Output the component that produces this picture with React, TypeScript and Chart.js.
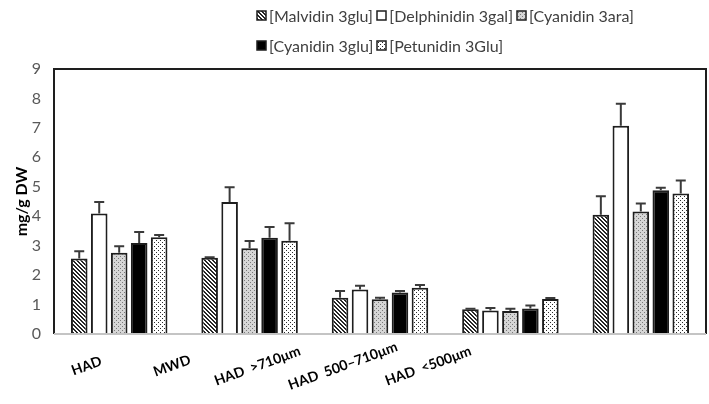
import React, { useEffect, useRef } from 'react';
import { Chart, registerables } from 'chart.js';

Chart.register(...registerables);

const categories = ['HAD', 'MWD', 'HAD  >710μm', 'HAD  500–710μm', 'HAD  <500μm'];
const seriesNames = ['[Malvidin 3glu]', '[Delphinidin 3gal]', '[Cyanidin 3ara]', '[Cyanidin 3glu]', '[Petunidin 3Glu]'];

const malvidin3glu = [2.56, 2.59, 1.23, 0.84, 4.05];
const malvidin3gluErr = [0.25, 0.02, 0.23, 0.02, 0.63];
const delphinidin3gal = [4.09, 4.48, 1.51, 0.8, 7.07];
const delphinidin3galErr = [0.39, 0.5, 0.13, 0.08, 0.75];
const cyanidin3ara = [2.76, 2.91, 1.18, 0.78, 4.16];
const cyanidin3araErr = [0.22, 0.25, 0.05, 0.08, 0.27];
const cyanidin3glu = [3.09, 3.27, 1.41, 0.87, 4.88];
const cyanidin3gluErr = [0.37, 0.36, 0.05, 0.1, 0.09];
const petunidin3glu = [3.29, 3.17, 1.57, 1.19, 4.77];
const petunidin3gluErr = [0.07, 0.59, 0.09, 0.03, 0.44];

const yTicks = [0, 1, 2, 3, 4, 5, 6, 7, 8, 9];

const seriesValues = [malvidin3glu, delphinidin3gal, cyanidin3ara, cyanidin3glu, petunidin3glu];
const seriesErrors = [malvidin3gluErr, delphinidin3galErr, cyanidin3araErr, cyanidin3gluErr, petunidin3gluErr];
const fillKinds = ['hatch', 'white', 'grayDots', 'black', 'dots'];

// label placement along the category axis (fractional category index)
const LABEL_INDEX_START = -0.25;
const LABEL_INDEX_STEP = 0.655;

function makeFill(kind: string): CanvasPattern | string {
  if (kind === 'white') return '#ffffff';
  if (kind === 'black') return '#000000';
  const c = document.createElement('canvas');
  c.width = 4;
  c.height = 4;
  const g = c.getContext('2d')!;
  if (kind === 'hatch') {
    g.fillStyle = '#ffffff';
    g.fillRect(0, 0, 4, 4);
    g.fillStyle = '#262626';
    for (let k = 0; k < 4; k++) {
      g.fillRect(k, k, 1, 1);
      g.fillRect((k + 1) % 4, k, 1, 1);
    }
  } else if (kind === 'grayDots') {
    g.fillStyle = '#d6d6d6';
    g.fillRect(0, 0, 4, 4);
    g.fillStyle = '#7a7a7a';
    g.fillRect(0, 0, 1, 1);
    g.fillRect(2, 2, 1, 1);
  } else {
    g.fillStyle = '#ffffff';
    g.fillRect(0, 0, 4, 4);
    g.fillStyle = '#2a2a2a';
    g.fillRect(0, 0, 1, 1);
    g.fillRect(2, 2, 1, 1);
  }
  return g.createPattern(c, 'repeat')!;
}

const errorBarPlugin = {
  id: 'errorBars',
  afterDatasetsDraw(chart: any) {
    const ctx = chart.ctx;
    const y = chart.scales.y;
    ctx.save();
    ctx.strokeStyle = '#3a3a3a';
    ctx.lineWidth = 2;
    chart.data.datasets.forEach((ds: any, di: number) => {
      const meta = chart.getDatasetMeta(di);
      meta.data.forEach((el: any, j: number) => {
        const v = ds.data[j];
        const e = seriesErrors[di][j];
        const yt = y.getPixelForValue(v + e);
        ctx.beginPath();
        ctx.moveTo(el.x, el.y);
        ctx.lineTo(el.x, yt);
        ctx.moveTo(el.x - 5, yt);
        ctx.lineTo(el.x + 5, yt);
        ctx.stroke();
      });
    });
    ctx.restore();
  },
};

const framePlugin = {
  id: 'frame',
  afterDatasetsDraw(chart: any) {
    const { ctx, chartArea: a } = chart;
    ctx.save();
    ctx.lineWidth = 2;
    ctx.strokeStyle = '#1e1e1e';
    ctx.beginPath();
    ctx.moveTo(a.left, a.bottom);
    ctx.lineTo(a.left, a.top);
    ctx.lineTo(a.right, a.top);
    ctx.lineTo(a.right, a.bottom);
    ctx.stroke();
    ctx.strokeStyle = '#c4c4c4';
    ctx.beginPath();
    ctx.moveTo(a.left, a.bottom);
    ctx.lineTo(a.right, a.bottom);
    ctx.stroke();
    ctx.restore();
  },
};

const xLabelPlugin = {
  id: 'xLabels',
  afterDraw(chart: any) {
    const ctx = chart.ctx;
    const xs = chart.scales.x;
    ctx.save();
    ctx.font = 'bold 14px Lato';
    ctx.fillStyle = '#000000';
    ctx.textAlign = 'center';
    ctx.textBaseline = 'middle';
    categories.forEach((c, i) => {
      const px = xs.getPixelForValue(LABEL_INDEX_START + LABEL_INDEX_STEP * i);
      ctx.save();
      ctx.translate(px, xs.top + 32);
      ctx.rotate((-20 * Math.PI) / 180);
      ctx.fillText(c, 0, 0);
      ctx.restore();
    });
    ctx.restore();
  },
};

export default function App() {
  const canvasRef = useRef<HTMLCanvasElement>(null);
  const swatchRefs = useRef<(HTMLCanvasElement | null)[]>([]);

  useEffect(() => {
    const fills = fillKinds.map((k) => makeFill(k));
    swatchRefs.current.forEach((sw, i) => {
      if (!sw) return;
      const g = sw.getContext('2d')!;
      g.clearRect(0, 0, sw.width, sw.height);
      g.fillStyle = fills[i] as any;
      g.fillRect(1, 1, 9, 9);
      g.strokeStyle = '#1e1e1e';
      g.lineWidth = 1.5;
      g.strokeRect(1, 1, 9, 9);
    });
    const chart = new Chart(canvasRef.current!, {
      type: 'bar',
      data: {
        labels: categories,
        datasets: seriesNames.map((name, i) => ({
          label: name,
          data: seriesValues[i],
          backgroundColor: fills[i] as any,
          borderColor: '#1e1e1e',
          borderWidth: 2,
          categoryPercentage: 0.766,
          barPercentage: 0.83,
        })),
      },
      options: {
        animation: false,
        responsive: false,
        layout: { padding: { top: 69, right: 3, left: 0, bottom: 0 } },
        plugins: { legend: { display: false }, tooltip: { enabled: false } },
        scales: {
          x: {
            grid: { display: false, drawTicks: false },
            border: { display: false },
            ticks: { display: false },
            afterFit: (s: any) => {
              s.height = 70;
            },
          },
          y: {
            min: yTicks[0],
            max: yTicks[yTicks.length - 1],
            ticks: {
              stepSize: 1,
              padding: 13,
              color: '#595959',
              font: { size: 16, family: 'Lato' },
            },
            grid: { display: false, drawTicks: false },
            border: { display: false },
            title: {
              display: true,
              text: 'mg/g DW',
              color: '#000000',
              font: { size: 16, weight: 'bold', family: 'Lato' },
              padding: { top: 12, bottom: 0 },
            },
            afterFit: (s: any) => {
              s.width = 54;
            },
          },
        },
      },
      plugins: [framePlugin, errorBarPlugin, xLabelPlugin],
    } as any);
    return () => chart.destroy();
  }, []);

  return (
    <div style={{ position: 'fixed', left: 0, top: 0, width: 709, height: 404, background: '#ffffff' }}>
      <canvas ref={canvasRef} width={709} height={404} style={{ display: 'block' }} />
      <div
        style={{
          position: 'absolute',
          left: 256,
          top: 0,
          display: 'grid',
          gridTemplateColumns: 'auto auto auto',
          columnGap: 3,
          font: '16px Lato',
          color: '#404040',
        }}
      >
        {seriesNames.map((n, i) => (
          <div key={n} style={{ display: 'flex', alignItems: 'center', height: 30, whiteSpace: 'nowrap' }}>
            <canvas
              ref={(el) => {
                swatchRefs.current[i] = el;
              }}
              width={11}
              height={11}
              style={{ marginRight: 2, display: 'block' }}
            />
            <span>{n}</span>
          </div>
        ))}
      </div>
    </div>
  );
}
